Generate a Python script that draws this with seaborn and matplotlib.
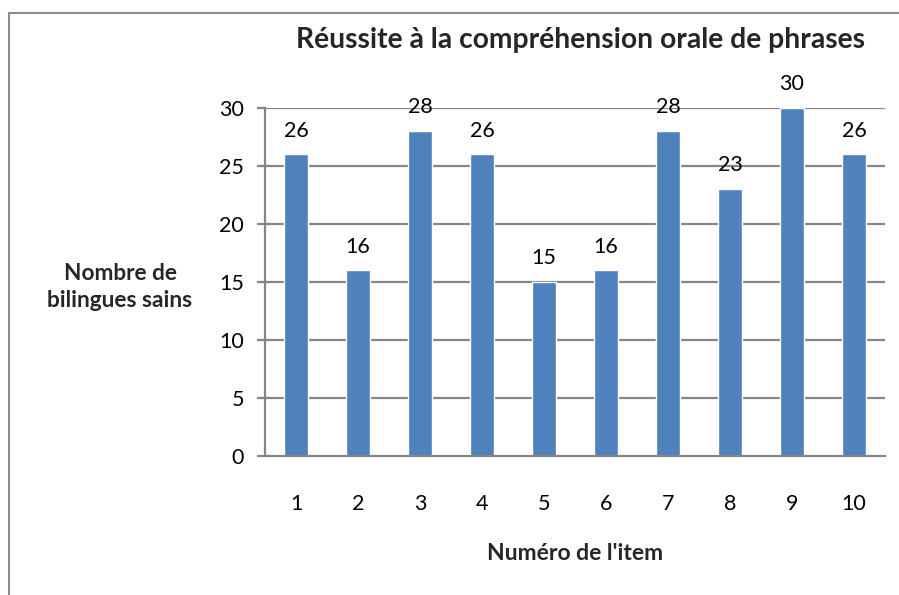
import matplotlib
matplotlib.use("Agg")
import matplotlib.pyplot as plt
import seaborn as sns
import pandas as pd
from matplotlib.lines import Line2D

items = ["1", "2", "3", "4", "5", "6", "7", "8", "9", "10"]
values = [26, 16, 28, 26, 15, 16, 28, 23, 30, 26]
yticks = [0, 5, 10, 15, 20, 25, 30]

title = "Réussite à la compréhension orale de phrases"
xlabel = "Numéro de l'item"
ylabel = "Nombre de\nbilingues sains"

sns.set_style("white")
plt.rcParams['font.family'] = ['Lato', 'DejaVu Sans']

W, H = 899, 595
fig = plt.figure(figsize=(W / 100, H / 100), dpi=100)

df = pd.DataFrame({"item": items, "value": values})

ax = fig.add_axes([265 / W, 1 - 456 / H, (885 - 265) / W, (456 - 108) / H])
sns.barplot(data=df, x="item", y="value", order=items, color="#4F81BD",
            saturation=1, width=0.39, ax=ax, zorder=3)

ax.set_ylim(0, 30)
ax.set_yticks(yticks)
ax.set_yticklabels([str(t) for t in yticks])
ax.set_xlim(-0.5, len(items) - 0.5)

grid_c = "#868686"
for t in yticks[1:]:
    ax.axhline(t, color=grid_c, lw=1.6, zorder=1)
for s in ["top", "right"]:
    ax.spines[s].set_visible(False)
for s in ["left", "bottom"]:
    ax.spines[s].set_color(grid_c)
    ax.spines[s].set_linewidth(1.6)
    ax.spines[s].set_zorder(4)

fs = 15.5
ax.tick_params(axis="y", length=6, width=1.6, color=grid_c, pad=9,
               labelsize=fs, labelcolor="black", left=True)
ax.tick_params(axis="x", length=0, pad=27, labelsize=fs, labelcolor="black")
ax.set_xlabel("")
ax.set_ylabel("")

for c in ax.containers:
    ax.bar_label(c, labels=[str(v) for v in values], padding=10, fontsize=fs,
                 color="black")

fig.text(581 / W, 1 - 40 / H, title, ha="center", va="center",
         fontsize=20.3, fontweight="bold")
fig.text(575 / W, 1 - 553 / H, xlabel, ha="center", va="center",
         fontsize=16.5, fontweight="bold")
fig.text(120 / W, 1 - 287 / H, ylabel, ha="center", va="center",
         fontsize=16.3, fontweight="bold", linespacing=1.3)

# outer frame (partially visible)
fig.add_artist(Line2D([9 / W, 9 / W], [0, 1 - 13 / H], color="#8c8c8c",
                      lw=1.5, transform=fig.transFigure))
fig.add_artist(Line2D([9 / W, 1], [1 - 13 / H, 1 - 13 / H], color="#8c8c8c",
                      lw=1.5, transform=fig.transFigure))

fig.savefig("out.png", dpi=100)
